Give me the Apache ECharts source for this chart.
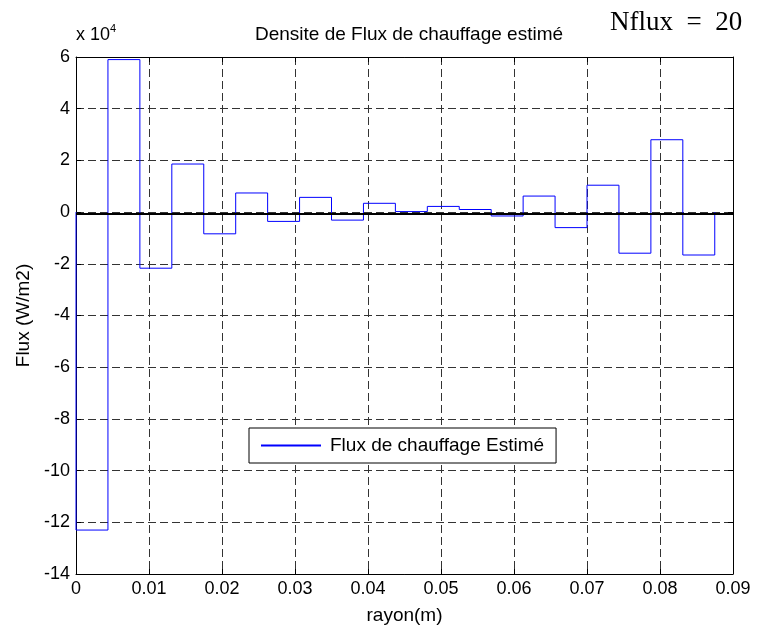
<!DOCTYPE html>
<html><head><meta charset="utf-8">
<script src="https://cdn.jsdelivr.net/npm/echarts@6/dist/echarts.min.js"></script>
<style>html,body{margin:0;padding:0;background:#fff}#c{width:757px;height:630px}</style>
</head><body><div id="c"></div>
<script>
// bin edges of the estimated flux (m)
const binEdges = [0, 0.004375, 0.00875, 0.013125, 0.0175, 0.021875, 0.02625, 0.030625, 0.035, 0.039375, 0.04375,
  0.048125, 0.0525, 0.056875, 0.06125, 0.065625, 0.07, 0.074375, 0.07875, 0.083125, 0.0875];
// flux per bin (x 10^4 W/m2)
const fluxValues = [-12.3, 5.9, -2.17, 1.86, -0.84, 0.74, -0.36, 0.57, -0.31, 0.34,
  0.02, 0.22, 0.10, -0.15, 0.62, -0.6, 1.04, -1.59, 2.8, -1.66];
const refLine = -0.08;
const xTicks = ['0','0.01','0.02','0.03','0.04','0.05','0.06','0.07','0.08','0.09'];
const yTicks = ['-14','-12','-10','-8','-6','-4','-2','0','2','4','6'];

const pts = [[binEdges[0], 0]];
for (let i = 0; i < fluxValues.length; i++) {
  pts.push([binEdges[i], fluxValues[i]]);
  pts.push([binEdges[i + 1], fluxValues[i]]);
}
pts.push([binEdges[binEdges.length - 1], 0]);

const FONT = 'Liberation Sans, Arial, sans-serif';
const BLUE = '#0000ff';
const gridLine = {show: true, lineStyle: {color: '#333', type: [8, 4], width: 1}};
const chart = echarts.init(document.getElementById('c'), null, {renderer: 'canvas'});
chart.setOption({
  animation: false,
  backgroundColor: '#fff',
  title: {text: 'Densite de Flux de chauffage estimé', left: 404, textAlign: 'center', top: 20,
    textStyle: {fontFamily: FONT, fontSize: 19, fontWeight: 'normal', color: '#000'}},
  grid: {left: 76, right: 24, top: 57, bottom: 54, containLabel: false},
  legend: {left: 249, top: 428, orient: 'horizontal', backgroundColor: '#fff', borderColor: '#000', borderWidth: 1,
    padding: [8, 12, 8, 12], itemWidth: 60, itemHeight: 2, itemGap: 8, icon: 'rect',
    itemStyle: {color: BLUE, borderWidth: 0},
    textStyle: {fontFamily: FONT, fontSize: 19, lineHeight: 19, color: '#000', padding: [0, 0, 0, 4]},
    data: [{name: 'Flux de chauffage Estimé', itemStyle: {color: BLUE, borderWidth: 0}}]},
  xAxis: [{type: 'value', min: 0, max: 0.09, interval: 0.01,
    name: 'rayon(m)', nameLocation: 'middle', nameGap: 32,
    nameTextStyle: {fontFamily: FONT, fontSize: 19, color: '#000'},
    axisLine: {show: true, onZero: false, lineStyle: {color: '#000', width: 1}},
    axisTick: {show: true, inside: true, length: 5, lineStyle: {color: '#000'}},
    axisLabel: {fontFamily: FONT, fontSize: 18, color: '#000', margin: 6,
      formatter: (v) => xTicks[Math.round(v / 0.01)]},
    splitLine: gridLine},
   {type: 'value', position: 'top', min: 0, max: 0.09, interval: 0.01,
    axisLine: {show: true, onZero: false, lineStyle: {color: '#000', width: 1}},
    axisTick: {show: true, inside: true, length: 5, lineStyle: {color: '#000'}},
    axisLabel: {show: false}, splitLine: {show: false}}],
  yAxis: [{type: 'value', min: -14, max: 6, interval: 2,
    name: 'Flux (W/m2)', nameLocation: 'middle', nameGap: 43, nameRotate: 90,
    nameTextStyle: {fontFamily: FONT, fontSize: 19, color: '#000'},
    axisLine: {show: true, onZero: false, lineStyle: {color: '#000', width: 1}},
    axisTick: {show: true, inside: true, length: 5, lineStyle: {color: '#000'}},
    axisLabel: {fontFamily: FONT, fontSize: 18, color: '#000', margin: 6,
      formatter: (v) => yTicks[Math.round((v + 14) / 2)]},
    splitLine: gridLine},
   {type: 'value', position: 'right', min: -14, max: 6, interval: 2,
    axisLine: {show: true, onZero: false, lineStyle: {color: '#000', width: 1}},
    axisTick: {show: true, inside: true, length: 5, lineStyle: {color: '#000'}},
    axisLabel: {show: false}, splitLine: {show: false}}],
  series: [{name: 'Flux de chauffage Estimé', type: 'line', data: pts, symbol: 'none', color: BLUE,
    lineStyle: {color: BLUE, width: 1}, itemStyle: {color: BLUE},
    markLine: {silent: true, symbol: 'none', label: {show: false},
      lineStyle: {color: '#000', width: 2, type: 'solid'},
      data: [{yAxis: refLine}]}}],
  graphic: [
    {type: 'text', left: 76, top: 23, style: {
      text: '{a|x 10}{b|4}', rich: {
        a: {fontFamily: FONT, fontSize: 18, fill: '#000', verticalAlign: 'bottom'},
        b: {fontFamily: FONT, fontSize: 11, fill: '#000', verticalAlign: 'top', padding: [0, 0, 10, 0]}}}},
    {type: 'text', left: 610, top: 9, style: {text: 'Nflux\u2002=\u200220', font: '27px "Liberation Serif", "Times New Roman", serif', fill: '#000'}}
  ]
});
</script></body></html>
